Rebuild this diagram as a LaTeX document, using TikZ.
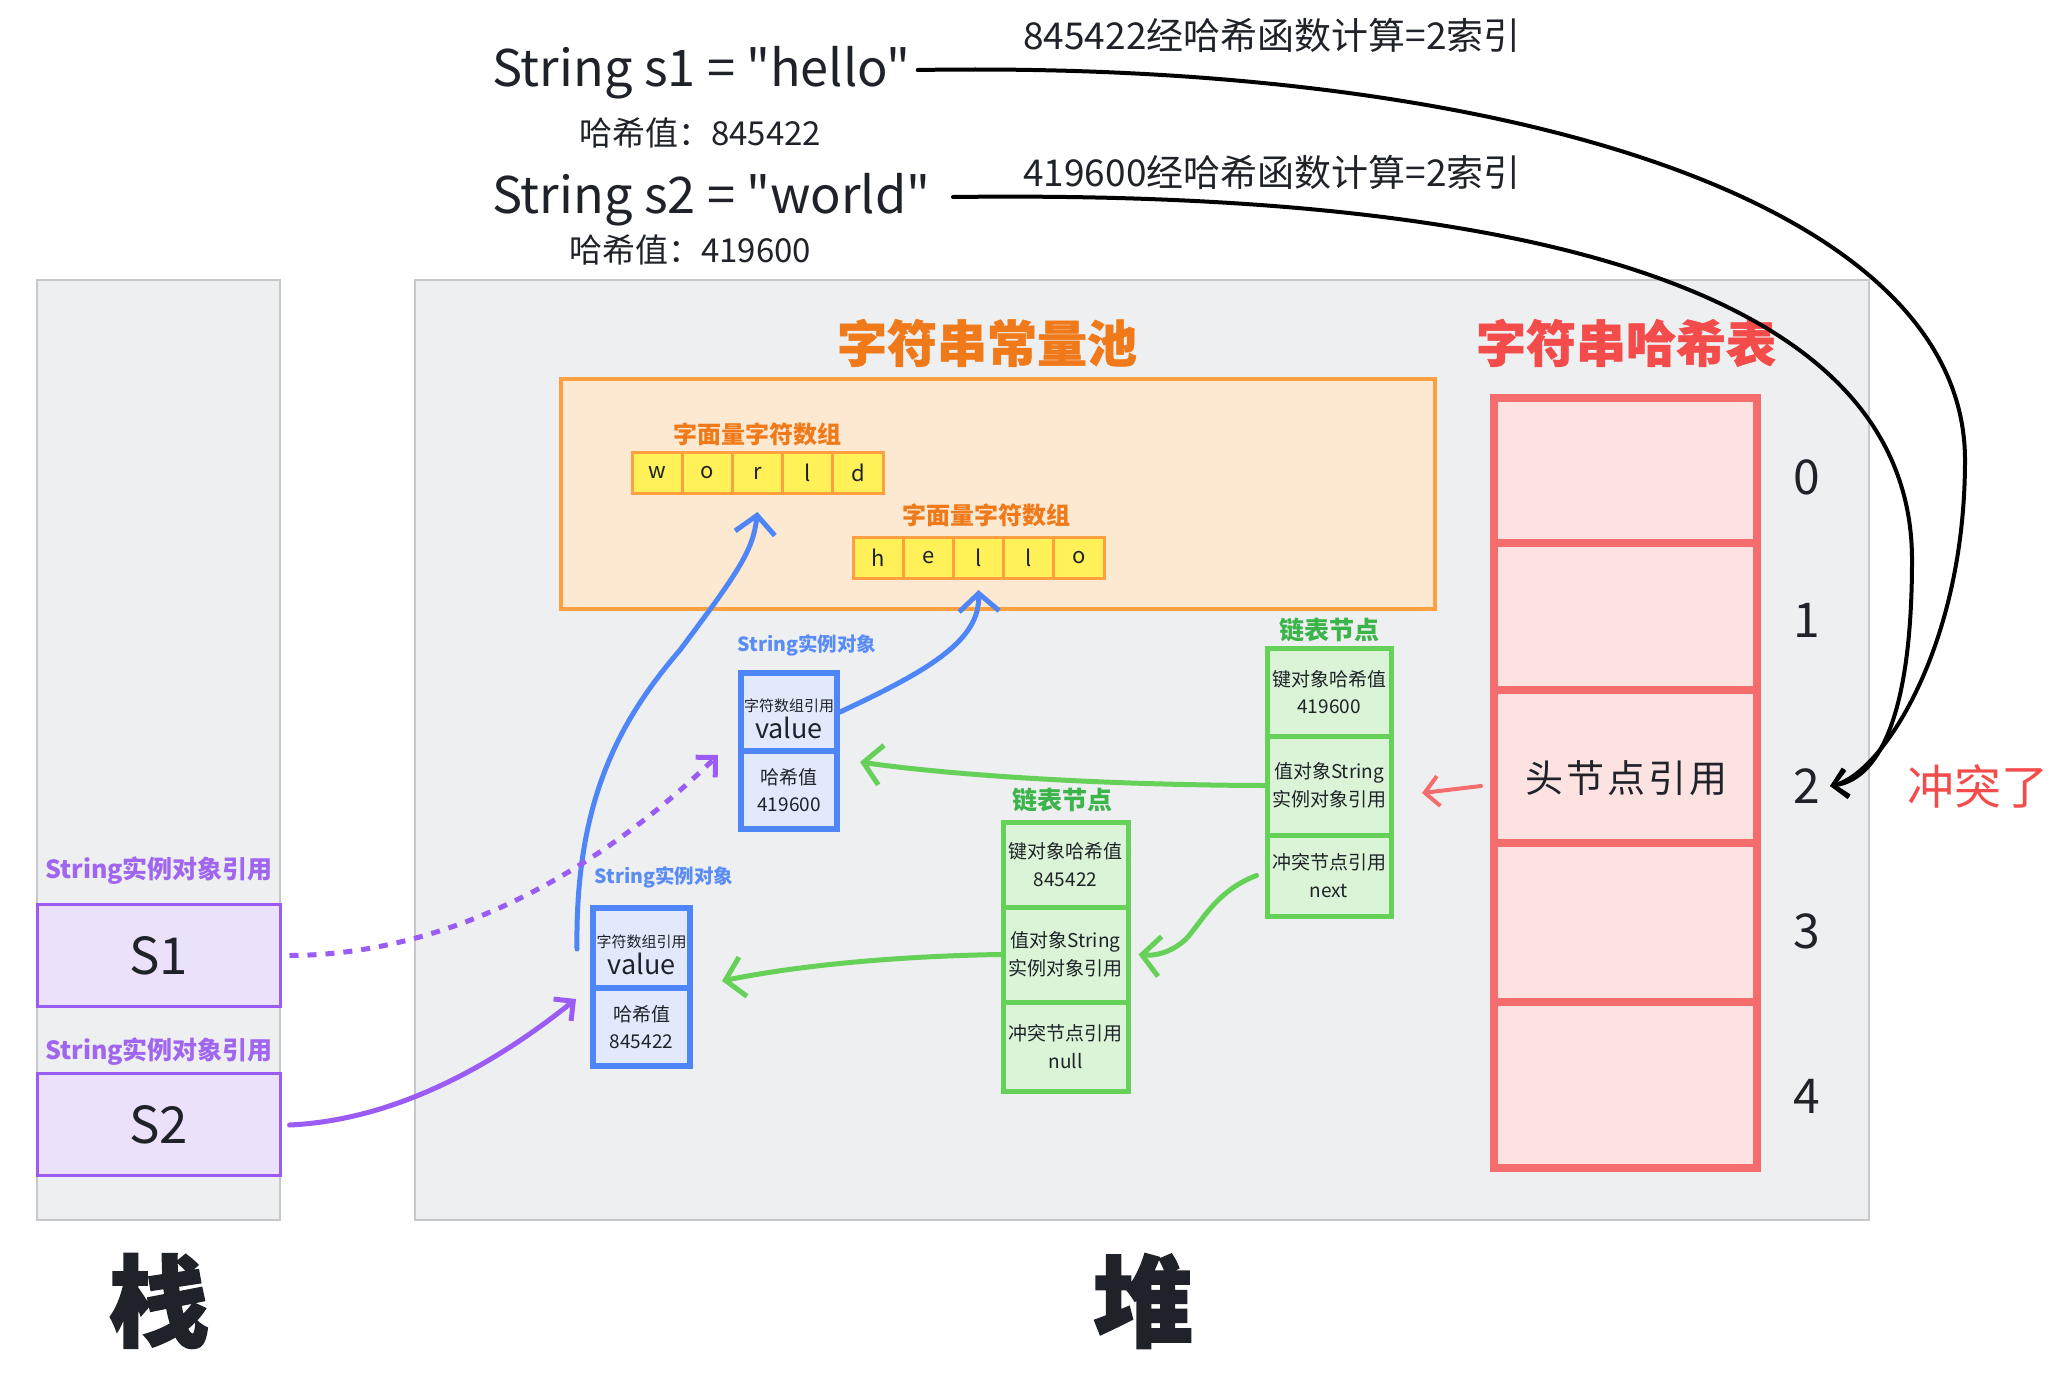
\documentclass[tikz,border=0pt]{standalone}
\usepackage{fontspec}
\setmainfont{Noto Sans CJK SC}
\newfontfamily\codefont{Noto Sans CJK SC}
\usetikzlibrary{arrows.meta}
\definecolor{panelbg}{HTML}{EEEFF1}
\definecolor{panelline}{HTML}{C6C8CC}
\definecolor{txt}{HTML}{1F2329}
\definecolor{orgtitle}{HTML}{F07A1A}
\definecolor{orgline}{HTML}{FFA040}
\definecolor{orgfill}{HTML}{FDE8D2}
\definecolor{yelfill}{HTML}{FFF157}
\definecolor{redline}{HTML}{F56C6C}
\definecolor{redfill}{HTML}{FDE2E2}
\definecolor{redtitle}{HTML}{F44B4B}
\definecolor{grnline}{HTML}{66D158}
\definecolor{grnfill}{HTML}{DBF3D6}
\definecolor{grntitle}{HTML}{3BB44A}
\definecolor{bluline}{HTML}{4F86F7}
\definecolor{blufill}{HTML}{E2E9FD}
\definecolor{blutitle}{HTML}{5A8CF5}
\definecolor{purline}{HTML}{9B5CF5}
\definecolor{purfill}{HTML}{EBE1FB}
\definecolor{purtxt}{HTML}{A066F0}
\newcommand{\fsz}[2][1.2]{\fontsize{#2}{\fpeval{#1*#2}}\selectfont}
\tikzset{
  panel/.style={draw=panelline, fill=panelbg, line width=2, inner sep=0},
  pool/.style={draw=orgline, fill=orgfill, line width=4, inner sep=0},
  cell/.style={draw=orgline, fill=yelfill, line width=3, minimum width=50.2, minimum height=41, inner sep=0, text=txt, font=\fsz{22}},
  hrow/.style={draw=redline, fill=redfill, line width=8, minimum width=263, inner sep=0, text=txt, font=\fsz{38}},
  grnrow/.style={draw=grnline, fill=grnfill, line width=5, inner sep=0, text=txt, align=center, font=\fsz[1.45]{19}},
  blurow/.style={draw=bluline, fill=blufill, line width=6, inner sep=0, text=txt, align=center, font=\fsz[1.45]{19}},
  sbox/.style={draw=purline, fill=purfill, line width=3, minimum width=243, minimum height=102, inner sep=0, text=txt, font=\fsz{51}},
  plain/.style={inner sep=0, text=txt},
  ttl/.style={inner sep=0, font=\bfseries},
  idx/.style={inner sep=0, text=txt, font=\fsz{48}},
  blk/.style={draw=black, line width=4, line cap=round, -{Straight Barb[length=14, width=28, line width=4]}},
  bluarr/.style={draw=bluline, line width=5, line cap=round, -{Straight Barb[length=18, width=40, line width=5]}},
  grnarr/.style={draw=grnline, line width=5, line cap=round, -{Straight Barb[length=18, width=40, line width=5]}},
  purarr/.style={draw=purline, line width=5, -{Straight Barb[length=14, width=28, line width=5]}},
  redarr/.style={draw=redline, line width=4, line cap=round, -{Straight Barb[length=14, width=30, line width=4]}},
}
\begin{document}
\begin{tikzpicture}[x=1pt, y=-1pt]
\useasboundingbox[fill=white] (0,0) rectangle (2061,1373);

% panels
\node[panel, minimum width=243, minimum height=940] (stack) at (158.5,750) {};
\node[panel, minimum width=1454, minimum height=940] (heap) at (1142,750) {};
\node[pool, minimum width=874, minimum height=230] (pool) at (998,494) {};

% top texts
\node[plain, anchor=west, font=\codefont\fsz{50.5}] (s1code) at (492,73) {String s1 = "hello"};
\node[plain, font=\fsz{33}] (h1) at (700,133) {哈希值：845422};
\node[plain, anchor=west, font=\codefont\fsz{50.5}] (s2code) at (492,200) {String s2 = "world"};
\node[plain, font=\fsz{33}] (h2) at (690,250) {哈希值：419600};
\node[plain, font=\fsz{37}] (c1) at (1272,35) {845422经哈希函数计算=2索引};
\node[plain, font=\fsz{37}] (c2) at (1272,172) {419600经哈希函数计算=2索引};

% titles
\node[ttl, text=orgtitle, font=\bfseries\fsz{50}\addfontfeature{FakeBold=1}] (pooltitle) at (987,343) {字符串常量池};
\node[ttl, text=redtitle, font=\bfseries\fsz{50}\addfontfeature{FakeBold=1}] (hashtitle) at (1626,343) {字符串哈希表};
\node[ttl, text=orgtitle, font=\bfseries\fsz{24}] (wtitle) at (757,434) {字面量字符数组};
\node[ttl, text=orgtitle, font=\bfseries\fsz{24}] (htitle) at (986,515) {字面量字符数组};

% arrays
\foreach \c [count=\i from 0] in {w,o,r,l,d}
  \node[cell] (w\i) at ({632+25.1+50.2*\i},473) {\c};
\foreach \c [count=\i from 0] in {h,e,l,l,o}
  \node[cell] (h\i) at ({853+25.1+50.2*\i},558) {\c};

% hash table
\node[hrow, minimum height=145] (r0) at (1625.5,470.5) {};
\node[hrow, minimum height=147] (r1) at (1625.5,616.5) {};
\node[hrow, minimum height=153] (r2) at (1625.5,766.5) {\raisebox{-26pt}[0pt][0pt]{\hspace{2pt}头\hspace{3pt}节\hspace{3pt}点\hspace{3pt}引\hspace{3pt}用}};
\node[hrow, minimum height=159] (r3) at (1625.5,922.5) {};
\node[hrow, minimum height=166] (r4) at (1625.5,1085) {};
\node[idx] (i0) at (1807,477) {0};
\node[idx] (i1) at (1807,620) {1};
\node[idx] (i2) at (1807,786) {2};
\node[idx] (i3) at (1807,931) {3};
\node[idx] (i4) at (1807,1096) {4};
\node[plain, text=redtitle, font=\fsz{47}] (conflict) at (1978,786) {冲突了};

% green linked nodes
\node[ttl, text=grntitle, font=\bfseries\fsz{25}] (g1t) at (1329,630) {链表节点};
\node[grnrow, minimum width=124, minimum height=88] (g1a) at (1329,692) {键对象哈希值\\419600};
\node[grnrow, minimum width=124, minimum height=99] (g1b) at (1329,785.5) {值对象String\\实例对象引用};
\node[grnrow, minimum width=124, minimum height=81] (g1c) at (1329,875.5) {冲突节点引用\\next};
\node[ttl, text=grntitle, font=\bfseries\fsz{25}] (g2t) at (1062,800) {链表节点};
\node[grnrow, minimum width=125, minimum height=85] (g2a) at (1065.5,864.5) {键对象哈希值\\845422};
\node[grnrow, minimum width=125, minimum height=95] (g2b) at (1065.5,954.5) {值对象String\\实例对象引用};
\node[grnrow, minimum width=125, minimum height=89] (g2c) at (1065.5,1046.5) {冲突节点引用\\null};

% blue String objects
\node[ttl, text=blutitle, font=\bfseries\fsz{19.5}] (b1t) at (807,645) {String实例对象};
\node[blurow, minimum width=96, minimum height=78] (b1a) at (789,712) {\raisebox{-26pt}[0pt][0pt]{\shortstack{{\fsz{15}字符数组引用}\\[1pt]{\fsz{27}value}}}};
\node[blurow, minimum width=96, minimum height=78] (b1b) at (789,790) {哈希值\\419600};
\node[ttl, text=blutitle, font=\bfseries\fsz{19.5}] (b2t) at (664,877) {String实例对象};
\node[blurow, minimum width=97, minimum height=80] (b2a) at (641.5,948) {\raisebox{-26pt}[0pt][0pt]{\shortstack{{\fsz{15}字符数组引用}\\[1pt]{\fsz{27}value}}}};
\node[blurow, minimum width=97, minimum height=78] (b2b) at (641.5,1027) {哈希值\\845422};

% stack
\node[ttl, text=purtxt, font=\bfseries\fsz{25}] (sl1) at (159,871) {String实例对象引用};
\node[sbox] (S1) at (158.5,955.5) {S1};
\node[ttl, text=purtxt, font=\bfseries\fsz{25}] (sl2) at (159,1052) {String实例对象引用};
\node[sbox] (S2) at (158.5,1124.5) {S2};

\node[plain, font=\bfseries\fsz{100}\addfontfeature{FakeBold=1.5}] (zhan) at (159,1301) {栈};
\node[plain, font=\bfseries\fsz{100}\addfontfeature{FakeBold=1.5}] (dui) at (1143,1301) {堆};

% connectors
\coordinate (e2) at (1830,786);
\draw[blk] ([xshift=7]s1code.east |- 0,70) .. controls (1500,60) and (1965,200) .. (1965,460)
   .. controls (1965,650) and (1880,775) .. (e2);
\draw[blk] (953,197) .. controls (1500,190) and (1912,280) .. (1912,560)
   .. controls (1912,700) and (1885,778) .. (e2);

\draw[redarr] ([xshift=-9]r2.west |- 0,786) -- (1422,793);

\draw[bluarr] (b1a.east) .. controls (930,670) and (980,640) .. (h2.south |- 0,590);
\draw[bluarr] (577,949) .. controls (575,800) and (620,720) .. (680,650)
   .. controls (740,570) and (753,550) .. (w2.south |- 0,512);

\draw[grnarr] (g1b.west) .. controls (1100,785) and (950,775) .. (860,762);
\draw[grnarr] (g2b.west) .. controls (900,956) and (800,965) .. (722,981);
\draw[grnarr] ([xshift=-8]g1c.west) .. controls (1215,891) and (1200,925) .. (1185,940)
   .. controls (1170,953) and (1155,956) .. ([xshift=8]g2b.east);

\draw[purarr, dash pattern=on 9 off 9] ([xshift=8]S1.east) .. controls (450,955) and (600,870) .. (718,755);
\draw[purarr, line cap=round] ([xshift=8]S2.east |- 0,1125) .. controls (400,1120) and (500,1060) .. (576,999);
\end{tikzpicture}
\end{document}
